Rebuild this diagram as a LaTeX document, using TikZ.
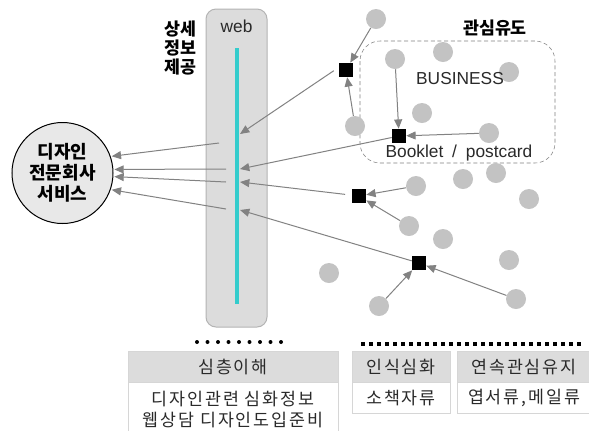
\documentclass[tikz,border=0pt]{standalone}
\usepackage{fontspec}
\setmainfont{Liberation Sans}
\newfontfamily\kr{Noto Sans CJK KR}
\newfontfamily\krwide{Noto Sans CJK KR}[LetterSpace=11]
\usetikzlibrary{arrows.meta}

\definecolor{panelgray}{HTML}{DCDCDC}
\definecolor{panelline}{HTML}{B4B4B4}
\definecolor{dotgray}{HTML}{C3C3C3}
\definecolor{webcyan}{HTML}{33CCCC}
\definecolor{linegray}{HTML}{828282}
\definecolor{cellline}{HTML}{D6D6D6}
\definecolor{textgray}{HTML}{2A2A2A}

\tikzset{
  gdot/.style={circle, fill=dotgray, inner sep=0pt, minimum size=15pt},
  blk/.style={rectangle, fill=black, inner sep=0pt, minimum size=10.5pt},
  feed/.style={draw=linegray, line width=0.75pt, -{Triangle[length=7pt,width=6pt]}},
  hdrcell/.style={draw=cellline, fill=panelgray, inner sep=0pt, minimum height=23.25pt, text=textgray, font=\krwide\fontsize{13pt}{15.75pt}\selectfont},
  bodycell/.style={draw=cellline, fill=white, inner sep=0pt, text=textgray, align=center, font=\krwide\fontsize{13pt}{15.75pt}\selectfont},
  boldkr/.style={align=center, font=\kr\bfseries\fontsize{13pt}{14.25pt}\selectfont},
}

\begin{document}
\begin{tikzpicture}[x=0.75pt, y=-0.75pt, font=\fontsize{13pt}{15.75pt}\selectfont]
			%%%%% START %%%%%
			\useasboundingbox (0,0) rectangle (589,430);
			\fill[white] (0,0) rectangle (589,430);

			% web column
			\draw[rounded corners=7.5pt, fill=panelgray, draw=panelline, line width=0.75pt] (206,9) rectangle (267,327);
			\node[text=textgray] (webtitle) at (236.5,26) {web};
			\draw[webcyan, line width=3pt] (237,48) -- (237,304);
			\node[boldkr] (detail) at (180,48) {상세\\정보\\제공};

			\coordinate (w1) at (240,134);
			\coordinate (w2) at (240,169);
			\coordinate (w3) at (240,182);
			\coordinate (w4) at (240,210);
			\coordinate (v1) at (219,143);
			\coordinate (v2) at (226,169);
			\coordinate (v3) at (226,182);
			\coordinate (v4) at (226,209);

			% design service
			\node[draw, circle, fill=black!9, line width=0.75pt, minimum size=75.75pt, inner sep=0pt, boldkr, font=\kr\bfseries\fontsize{13.5pt}{15.75pt}\selectfont] (svc) at (62.5,173) {디자인\\전문회사\\서비스};

			% interest area
			\draw[dashed, dash pattern=on 3pt off 2pt, draw=black!50, rounded corners=15pt] (360,41) rectangle (555,163);
			\node[boldkr] (lure) at (495,28) {관심유도};

			\foreach \name/\x/\y in {d1/376/19, d2/395/59, d3/443/52, d4/509/72, d5/422/113,
			    d6/355/126, d7/489/133, d8/416/186, d9/463/179, d10/496/173, d11/529/199,
			    d12/409/226, d13/443/239, d14/329/273, d15/509/260, d16/379/306, d17/516/299}
			  \node[gdot] (\name) at (\x,\y) {};

			\node[text=textgray] (biz) at (460,79) {BUSINESS};
			\node[text=textgray] (book) at (459,153) {Booklet\hspace{3pt} /\hspace{3pt} postcard};

			\foreach \name/\x/\y in {s1/346/70, s2/399/136, s3/359/196, s4/419/263}
			  \node[blk] (\name) at (\x,\y) {};

			% dots into squares
			\draw[feed] (d1) -- (s1);
			\draw[feed] (d6) -- (s1);
			\draw[feed] (d2) -- (s2);
			\draw[feed] (d7) -- (s2);
			\draw[feed] (d8) -- (s3);
			\draw[feed] (d12) -- (s3);
			\draw[feed] (d16) -- (s4);
			\draw[feed] (d17) -- (s4);

			% squares into web
			\draw[feed, shorten <=4.5pt] (s1.160) -- (w1);
			\draw[feed] (s2) -- (w2);
			\draw[feed, shorten <=5pt] (s3) -- (w3);
			\draw[feed] (s4) -- (w4);

			% web into service
			\draw[feed, shorten >=0.75pt] (v1) -- (svc.19);
			\draw[feed, shorten >=0.75pt] (v2) -- (svc.4);
			\draw[feed, shorten >=0.75pt] (v3) -- (svc.-4);
			\draw[feed, shorten >=0.75pt] (v4) -- (svc.-19);

			% separators
			\foreach \i in {0,...,8}
			  \fill (197+10.5*\i,342) circle (1.5pt);
			\draw[line width=2.3pt, dash pattern=on 3pt off 3pt] (361,344) -- (584,344);

			% tables
			\node[hdrcell, minimum width=157.5pt] (h1) at (233,366.5) {심층이해};
			\node[bodycell, minimum width=157.5pt, minimum height=40.5pt, anchor=north] (b1) at (h1.south) {디자인관련 심화정보\\웹상담 디자인도입준비};
			\node[hdrcell, minimum width=73.5pt] (h2) at (401,366.5) {인식심화};
			\node[bodycell, minimum width=73.5pt, minimum height=23.25pt, anchor=north] (b2) at (h2.south) {소책자류};
			\node[hdrcell, minimum width=100.5pt] (h3) at (524,366.5) {연속관심유지};
			\node[bodycell, minimum width=100.5pt, minimum height=23.25pt, anchor=north] (b3) at (h3.south) {엽서류,메일류};
			%%%%% END %%%%%
\end{tikzpicture}
\end{document}
